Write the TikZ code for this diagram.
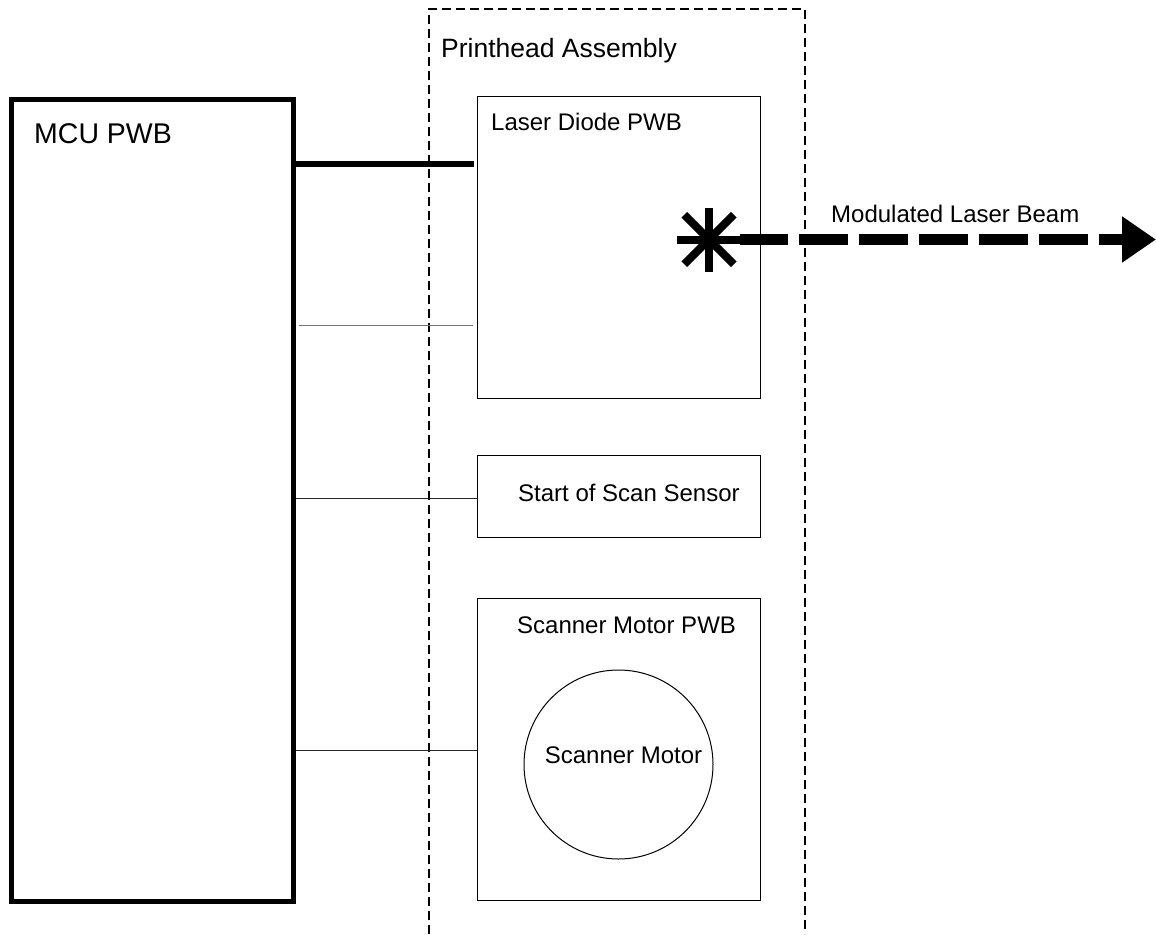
\documentclass[tikz,border=0pt]{standalone}
\usepackage{fontspec}
\setmainfont{Liberation Sans}
\usetikzlibrary{arrows.meta}

\begin{document}
\begin{tikzpicture}[x=1pt,y=-1pt,
  lbl/.style={inner sep=0pt,anchor=base west,font=\fontsize{24}{28}\selectfont},
  pwb/.style={draw,line width=1pt,inner sep=0pt,minimum width=282.5pt},
  wire/.style={line width=1pt,draw=black!85},
  beam/.style={line width=11pt,dash pattern=on 49pt off 11pt,dash phase=1pt,
               -{Triangle[length=34pt,width=44pt]}}]
\useasboundingbox (0,0) rectangle (1156,934);
% printhead assembly outline
\draw[dash pattern=on 9pt off 5pt,line width=1.5pt] (429,934) -- (429,9) -- (805,9) -- (805,934);
\node[lbl,font=\fontsize{26.5}{30}\selectfont] (phlabel) at (441,58) {Printhead Assembly};
% boards
\node[draw,line width=5pt,inner sep=0pt,minimum width=282pt,minimum height=802.5pt] (mcu) at (152.5,500.25) {};
\node[lbl,font=\fontsize{28.5}{32}\selectfont] (mculabel) at (34,143) {MCU PWB};
\node[pwb,minimum height=301.5pt] (ldpwb) at (618.75,247.25) {};
\node[lbl] (ldlabel) at (491,130) {Laser Diode PWB};
\node[pwb,minimum height=82pt] (sos) at (618.75,496) {};
\node[lbl] (soslabel) at (518,501) {Start of Scan Sensor};
\node[pwb,minimum height=302pt] (smpwb) at (618.75,749) {};
\node[lbl] (smlabel) at (517,633) {Scanner Motor PWB};
\node[draw,line width=1pt,circle,inner sep=0pt,minimum size=189pt] (motor) at (618.5,764.5) {};
\node[lbl,anchor=base] (motorlabel) at (623.5,763) {Scanner Motor};
% wiring to the MCU
\draw[line width=6pt,shorten >=3pt] (mcu.east |- 0,164) -- (ldpwb.west |- 0,164);
\draw[wire,draw=black!55,shorten <=3pt,shorten >=4pt] (mcu.east |- 0,325) -- (ldpwb.west |- 0,325);
\draw[wire] (mcu.east |- 0,498) -- (sos.west |- 0,498);
\draw[wire] (mcu.east |- 0,750) -- (smpwb.west |- 0,750);
% laser diode and beam
\coordinate (laser) at (709,239.5);
\coordinate (beamend) at (1156,239.5);
\foreach \a in {0,90,180,270}
  \draw[line width=8pt] (laser) -- ++(\a:32);
\foreach \a in {45,135,225,315}
  \draw[line width=8pt] (laser) -- ++(\a:35);
\draw[beam] ([xshift=31pt]laser) -- (beamend);
\node[lbl] (beamlabel) at (831,222) {Modulated Laser Beam};
\end{tikzpicture}
\end{document}
